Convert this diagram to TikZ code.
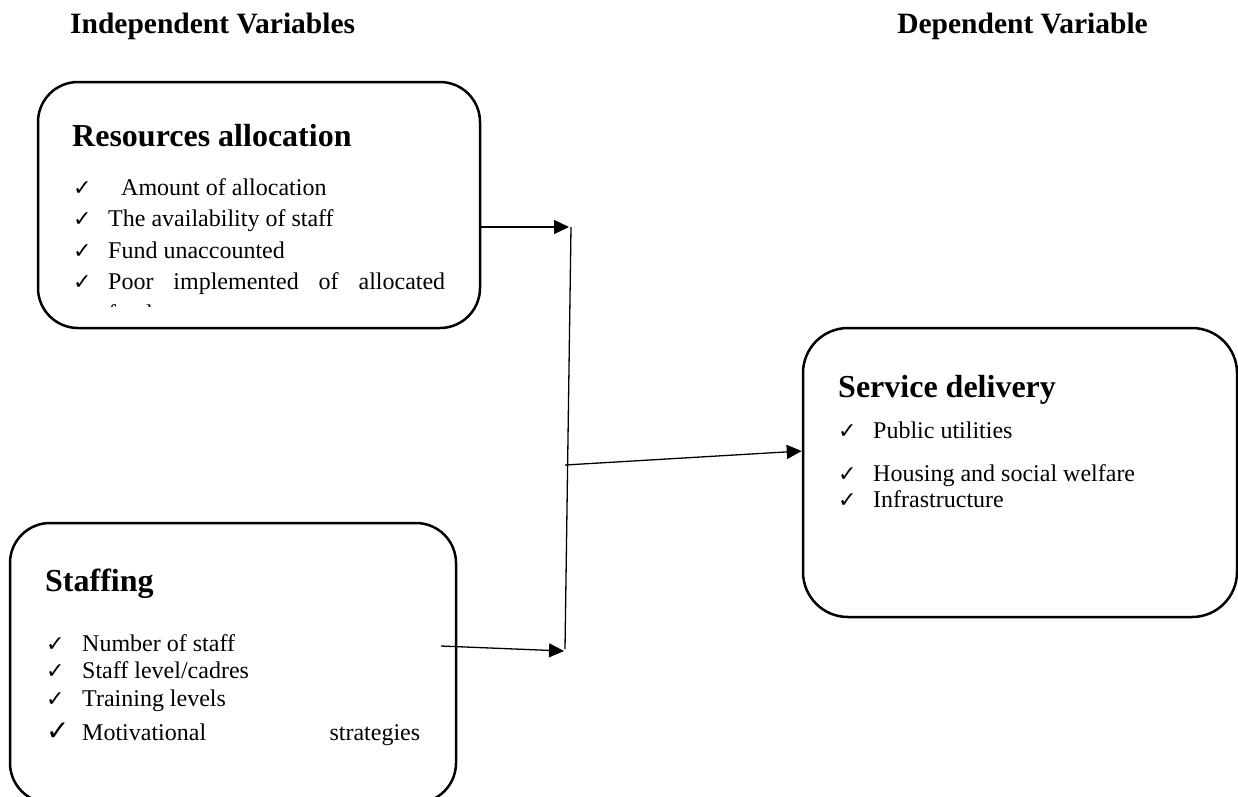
\documentclass[tikz,border=0pt]{standalone}
\usepackage{fontspec}
\setmainfont{Liberation Serif}
\newfontfamily\symfont{DejaVu Sans}
\usetikzlibrary{arrows.meta}
\begin{document}
\begin{tikzpicture}[x=1pt,y=-1pt,
  box/.style={draw,line width=2.5pt,rounded corners=40pt,inner sep=0pt,minimum width=#1},
  conn/.style={line width=1.3pt},
  arr/.style={conn,-{Triangle[length=15pt,width=14pt]}},
  hd/.style={font=\fontsize{32}{38}\selectfont\bfseries,anchor=base west,inner sep=0pt},
  ti/.style={font=\fontsize{29.5}{35}\selectfont\bfseries,inner sep=0pt},
  it/.style={font=\fontsize{24}{28}\selectfont,anchor=base west,inner sep=0pt},
  ck/.style={font=\symfont\fontsize{22}{26}\selectfont,anchor=base west,inner sep=0pt}]
\useasboundingbox (0,0) rectangle (1238,796);
% titles
\node[ti,anchor=base west] (tind) at (70,33) {Independent Variables};
\node[ti,anchor=base east] (tdep) at (1148,33) {Dependent Variable};
% boxes
\node[box=442pt,minimum height=246pt] (res) at (259,205) {};
\node[box=446pt,minimum height=280pt] (stf) at (233,663) {};
\node[box=434pt,minimum height=289pt,rounded corners=45pt] (svc) at (1020,472.5) {};
% resources text
\node[hd] (resh) at (72,146.5) {Resources allocation};
\node[ck] (rc1) at (73,195) {✓};
\node[it] (r1) at (121,195) {Amount of allocation};
\node[ck] (rc2) at (73,226.5) {✓};
\node[it] (r2) at (108,226.5) {The availability of staff};
\node[ck] (rc3) at (73,258) {✓};
\node[it] (r3) at (108,258) {Fund unaccounted};
\node[ck] (rc4) at (73,289.5) {✓};
\node[it] (r4) at (108,289.5) {\hbox to 337pt{Poor\hfill implemented\hfill of\hfill allocated}};
\begin{scope}
\clip (100,300) rectangle (300,306);
\node[it] (r5) at (108,321) {funds};
\end{scope}
% staffing text
\node[hd] (stfh) at (45,591.5) {Staffing};
\node[ck] (sc1) at (46,651.5) {✓};
\node[it] (s1) at (82,651.5) {Number of staff};
\node[ck] (sc2) at (46,678.5) {✓};
\node[it] (s2) at (82,678.5) {Staff level/cadres};
\node[ck] (sc3) at (46,706.5) {✓};
\node[it] (s3) at (82,706.5) {Training levels};
\node[ck,font=\symfont\fontsize{28}{32}\selectfont] (sc4) at (46,740) {✓};
\node[it] (s4) at (82,740) {\hbox to 338pt{Motivational\hfill strategies}};
% service text
\node[hd] (svch) at (838,397) {Service delivery};
\node[ck] (vc1) at (838,438) {✓};
\node[it] (v1) at (873,438) {Public utilities};
\node[ck] (vc2) at (838,481) {✓};
\node[it] (v2) at (873,481) {Housing and social welfare};
\node[ck] (vc3) at (838,507.5) {✓};
\node[it] (v3) at (873,507.5) {Infrastructure};
% connectors
\coordinate (jt) at (571,227);
\coordinate (jb) at (565,649);
\coordinate (jm) at (565,465);
\coordinate (s0) at (441,646);
\draw[arr] (res.east |- jt) -- (569,227);
\draw[conn] (jt) -- (jb);
\draw[arr] (s0) -- (564,651);
\draw[arr] (jm) -- (svc.west |- 0,451);
\end{tikzpicture}
\end{document}
